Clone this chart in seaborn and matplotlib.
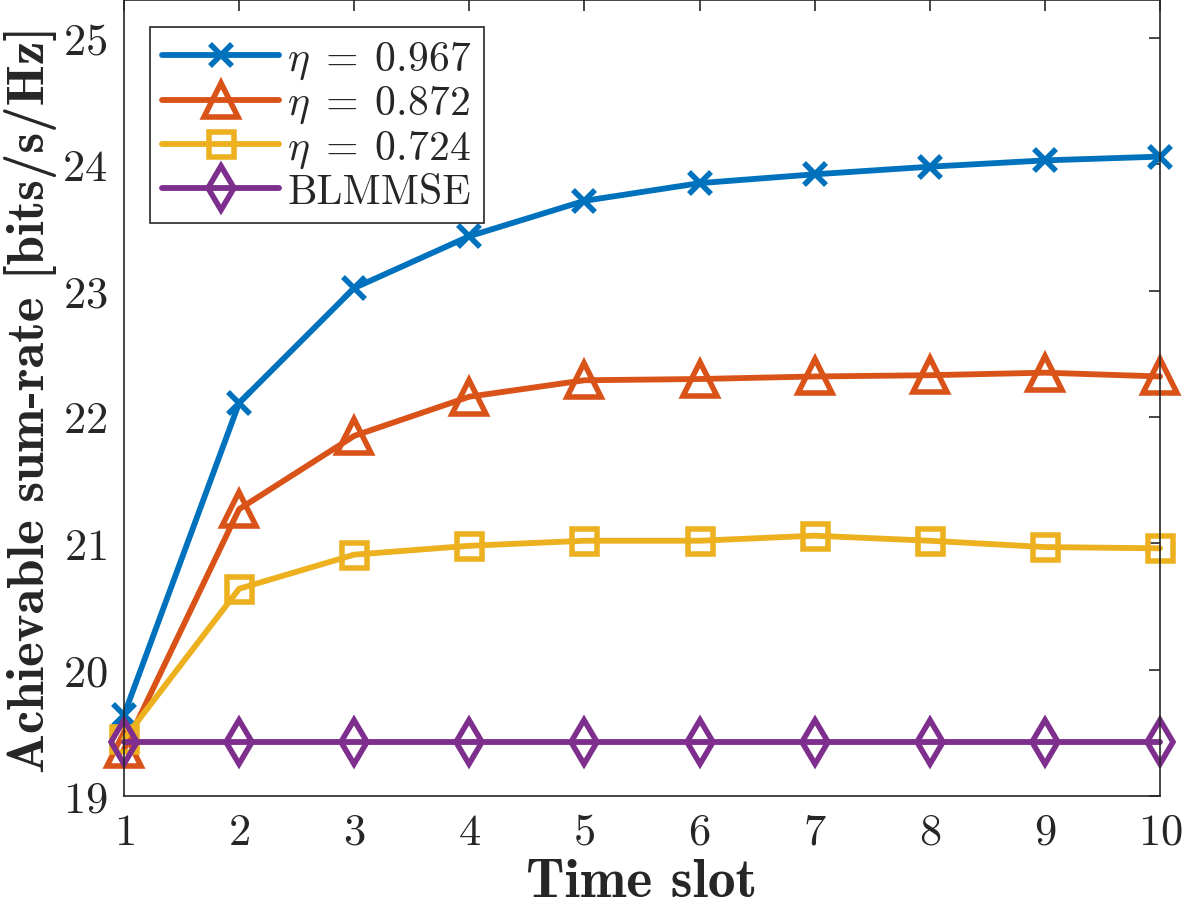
import numpy as np
import pandas as pd
import seaborn as sns
import matplotlib.pyplot as plt

# data
time_slot = [1, 2, 3, 4, 5, 6, 7, 8, 9, 10]
rate_0967 = [19.64, 22.11, 23.02, 23.43, 23.71, 23.85, 23.92, 23.98, 24.03, 24.06]
rate_0872 = [19.37, 21.27, 21.85, 22.16, 22.29, 22.30, 22.32, 22.33, 22.35, 22.32]
rate_0724 = [19.45, 20.64, 20.91, 20.98, 21.02, 21.02, 21.06, 21.02, 20.97, 20.96]
rate_blmmse = [19.43, 19.43, 19.43, 19.43, 19.43, 19.43, 19.43, 19.43, 19.43, 19.43]

labels = [r'$\eta\;=\;0.967$', r'$\eta\;=\;0.872$', r'$\eta\;=\;0.724$', 'BLMMSE']
series = [rate_0967, rate_0872, rate_0724, rate_blmmse]
colors = ['#0072BD', '#D95319', '#EDB120', '#7E2F8E']
markers = ['x', '^', 's', 'd']
msizes = [16, 24, 18, 22]

sns.set_theme(style='white')
plt.rcParams['font.family'] = 'serif'
plt.rcParams['font.serif'] = ['cmr10']
plt.rcParams['mathtext.fontset'] = 'cm'
plt.rcParams['axes.unicode_minus'] = False
plt.rcParams['axes.formatter.use_mathtext'] = True

fig = plt.figure(figsize=(11.83, 9.12), dpi=100)
ax = fig.add_axes([0.1048, 0.1261, 0.8758, 0.8729])

for lab, vals, c, m, ms in zip(labels, series, colors, markers, msizes):
    df = pd.DataFrame({'slot': time_slot, 'rate': vals})
    sns.lineplot(data=df, x='slot', y='rate', ax=ax, color=c, marker=m,
                 markersize=ms, markeredgewidth=4, markeredgecolor=c,
                 markerfacecolor='none', linewidth=4.2, label=lab, clip_on=False)

ax.set_xlim(1, 10)
ax.set_ylim(19, 25.3)
ax.set_xticks(time_slot)
ax.set_yticks([19, 20, 21, 22, 23, 24, 25])
ax.tick_params(direction='in', length=8, width=1.2, top=True, right=True,
               labelsize=32, pad=12, colors='#262626')
for s in ax.spines.values():
    s.set_linewidth(1.2)
    s.set_color('#262626')

ax.set_xlabel('Time slot', fontfamily='cmb10', fontsize=40, labelpad=4)
ax.set_ylabel('Achievable sum-rate [bits/s/Hz]', fontfamily='cmb10', fontsize=38, labelpad=4)

leg = ax.legend(loc='upper left', bbox_to_anchor=(0.025, 0.966), fontsize=30,
                fancybox=False, edgecolor='#262626', framealpha=1,
                handlelength=2.8, borderaxespad=0, labelspacing=0.08,
                handletextpad=0.2, borderpad=0.3)
leg.get_frame().set_linewidth(1.2)

fig.savefig('out.png', dpi=100)
